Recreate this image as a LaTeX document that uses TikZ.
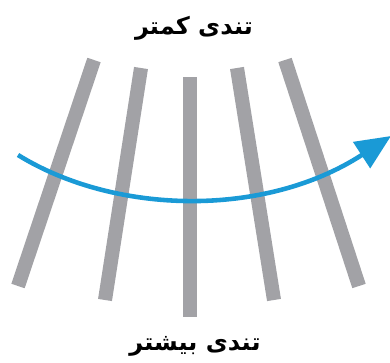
\documentclass[tikz,border=0pt]{standalone}
\usepackage{fontspec}
\newfontfamily\arabicfont[Script=Arabic]{DejaVu Sans}
\TeXXeTstate=1
\usepackage{tikz}
\usetikzlibrary{arrows.meta, positioning}
\definecolor{bargray}{HTML}{A2A2A6}
\definecolor{flowblue}{HTML}{1A9AD6}

\begin{document}
\begin{tikzpicture}[
      x=0.03cm, y=-0.03cm,
      bar/.style={draw=bargray, line width=12pt},
      flow/.style={draw=flowblue, line width=3.9pt,
                   -{Triangle[length=30pt, width=26pt]}},
      tag/.style={font=\arabicfont\bfseries\fontsize{20.5}{24}\selectfont,
                  inner sep=0pt}
    ]
    \useasboundingbox (0,0) rectangle (390,363);

    \coordinate (b1top) at (94,60);   \coordinate (b1bot) at (18,286);
    \coordinate (b2top) at (141,68);  \coordinate (b2bot) at (105,300);
    \coordinate (b3top) at (190,77);  \coordinate (b3bot) at (190,317);
    \coordinate (b4top) at (237,68);  \coordinate (b4bot) at (274,300);
    \coordinate (b5top) at (285,60);  \coordinate (b5bot) at (359,286);

    \draw[bar] (b1top) -- (b1bot);
    \draw[bar] (b2top) -- (b2bot);
    \draw[bar] (b3top) -- (b3bot);
    \draw[bar] (b4top) -- (b4bot);
    \draw[bar] (b5top) -- (b5bot);

    \coordinate (start) at (18,155);
    \coordinate (finish) at (391,136);
    \draw[flow] (start) .. controls (115,215) and (265,218) .. (finish);

    \node[tag] (slow) at (194,28) {\beginR تندی کمتر\endR};
    \node[tag] (fast) at (195,346) {\beginR تندی بیشتر\endR};
  \end{tikzpicture}
\end{document}
